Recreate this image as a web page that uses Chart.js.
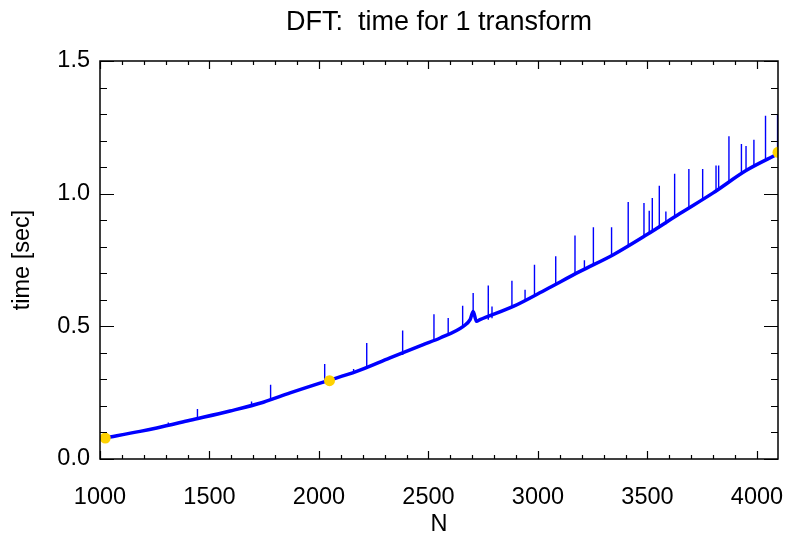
<!DOCTYPE html>
<html lang="en">
<head>
  <meta charset="UTF-8">
  <title>DFT: time for 1 transform</title>
  <script src="https://cdn.jsdelivr.net/npm/chart.js"></script>
  <style>
    html, body { margin: 0; padding: 0; background: #fff; }
  </style>
</head>
<body>
  <canvas id="dftChart" width="785" height="544"></canvas>

  <script>
    // smooth part of the curve (N, seconds)
    const baseN = [1024, 1183, 1259, 1411, 1594, 1746, 1868, 2020, 2172, 2324, 2476, 2553, 2659, 2690, 2704, 2719, 2735, 2887, 3039, 3192, 3344, 3496, 3648, 3800, 3952, 4096];
    const baseT = [0.080, 0.104, 0.117, 0.146, 0.181, 0.214, 0.249, 0.290, 0.330, 0.381, 0.431, 0.456, 0.500, 0.525, 0.556, 0.519, 0.525, 0.575, 0.640, 0.707, 0.770, 0.845, 0.925, 1.003, 1.088, 1.150];

    // outliers: position, peak and the level they start from
    const spikeN    = [1312, 1445, 1692, 1779, 2026, 2158, 2218, 2382, 2525, 2590, 2656, 2704, 2773, 2790, 2881, 2941, 2984, 3081, 3169, 3212, 3253, 3336, 3412, 3484, 3508, 3522, 3554, 3584, 3624, 3689, 3752, 3813, 3825, 3872, 3929, 3950, 3986, 4039, 4094];
    const spikeTop  = [0.138, 0.188, 0.217, 0.280, 0.358, 0.339, 0.437, 0.484, 0.546, 0.531, 0.578, 0.626, 0.654, 0.575, 0.672, 0.638, 0.732, 0.764, 0.842, 0.749, 0.873, 0.873, 0.969, 0.965, 0.936, 0.984, 1.030, 0.933, 1.075, 1.093, 1.093, 1.106, 1.106, 1.216, 1.187, 1.180, 1.203, 1.294, 1.298];
    const spikeBase = [0.122, 0.150, 0.200, 0.222, 0.290, 0.325, 0.345, 0.392, 0.445, 0.465, 0.495, 0.556, 0.525, 0.530, 0.572, 0.595, 0.620, 0.660, 0.700, 0.715, 0.735, 0.768, 0.805, 0.840, 0.848, 0.855, 0.870, 0.885, 0.910, 0.945, 0.975, 1.010, 1.015, 1.040, 1.075, 1.088, 1.105, 1.125, 1.150];

    // powers of two
    const dotN = [1024, 2048, 4096];
    const dotT = [0.079, 0.295, 1.156];

    const xTickVals = [1000, 1500, 2000, 2500, 3000, 3500, 4000];
    const yTickVals = [0.0, 0.5, 1.0, 1.5];

    const FONT = '"Liberation Sans", Arial, Helvetica, sans-serif';

    const basePoints = baseN.map((n, i) => ({ x: n, y: baseT[i] }));
    const spikePoints = [];
    spikeN.forEach((n, i) => {
      spikePoints.push({ x: n, y: spikeBase[i] });
      spikePoints.push({ x: n, y: spikeTop[i] });
      spikePoints.push({ x: n, y: null });
    });
    const dotPoints = dotN.map((n, i) => ({ x: n, y: dotT[i] }));

    // IDL-style box with inward ticks on all four sides + main title
    const frame = {
      id: 'frame',
      afterDraw(chart) {
        const { ctx, chartArea: a, scales: { x, y } } = chart;
        ctx.save();
        ctx.strokeStyle = '#000';
        ctx.lineWidth = 1.5;
        ctx.strokeRect(a.left, a.top, a.right - a.left, a.bottom - a.top);

        ctx.lineWidth = 1.2;
        ctx.beginPath();
        for (let v = 1000; v <= 4000; v += 100) {
          const px = Math.round(x.getPixelForValue(v)) + 0.5;
          const len = v % 500 === 0 ? 8 : 4;
          ctx.moveTo(px, a.bottom); ctx.lineTo(px, a.bottom - len);
          ctx.moveTo(px, a.top); ctx.lineTo(px, a.top + len);
        }
        for (let k = 0; k <= 15; k++) {
          const py = Math.round(y.getPixelForValue(k / 10)) + 0.5;
          const len = k % 5 === 0 ? 14 : 7;
          ctx.moveTo(a.left, py); ctx.lineTo(a.left + len, py);
          ctx.moveTo(a.right, py); ctx.lineTo(a.right - len, py);
        }
        ctx.stroke();

        ctx.fillStyle = '#000';
        ctx.font = '27px ' + FONT;
        ctx.textAlign = 'center';
        ctx.textBaseline = 'middle';
        ctx.fillText('DFT:  time for 1 transform', (a.left + a.right) / 2, 23);
        ctx.restore();
      }
    };

    const ctx = document.getElementById('dftChart').getContext('2d');
    new Chart(ctx, {
      type: 'line',
      data: {
        datasets: [
          {
            label: 'powers of 2',
            type: 'scatter',
            data: dotPoints,
            pointRadius: 5.5,
            pointBackgroundColor: '#ffd200',
            pointBorderWidth: 0,
            showLine: false,
            clip: 0,
            order: 0
          },
          {
            label: 'spikes',
            data: spikePoints,
            borderColor: '#0000ff',
            borderWidth: 1.4,
            pointRadius: 0,
            spanGaps: false,
            clip: 0,
            order: 1
          },
          {
            label: 'time',
            data: basePoints,
            borderColor: '#0000ff',
            borderWidth: 3.5,
            pointRadius: 0,
            cubicInterpolationMode: 'monotone',
            clip: 0,
            order: 2
          }
        ]
      },
      options: {
        responsive: false,
        animation: false,
        devicePixelRatio: 1,
        layout: { padding: { top: 61, right: 7, left: 0, bottom: 0 } },
        plugins: {
          legend: { display: false },
          tooltip: { enabled: false }
        },
        scales: {
          x: {
            type: 'linear',
            min: 1000,
            max: 4096,
            afterBuildTicks: s => { s.ticks = xTickVals.map(v => ({ value: v })); },
            afterFit: s => { s.height = 85; s.paddingLeft = 0; s.paddingRight = 0; },
            grid: { display: false, drawTicks: false },
            border: { display: false },
            ticks: {
              padding: 24,
              color: '#000',
              font: { family: FONT, size: 23.5 },
              maxRotation: 0,
              callback: v => String(v)
            },
            title: {
              display: true,
              text: 'N',
              color: '#000',
              font: { family: FONT, size: 23.5 },
              padding: { top: 0, bottom: 5 }
            }
          },
          y: {
            type: 'linear',
            min: 0,
            max: 1.5,
            afterBuildTicks: s => { s.ticks = yTickVals.map(v => ({ value: v })); },
            afterFit: s => { s.width = 100; s.paddingTop = 0; s.paddingBottom = 0; },
            grid: { display: false, drawTicks: false },
            border: { display: false },
            ticks: {
              padding: 10,
              color: '#000',
              font: { family: FONT, size: 23.5 },
              callback: v => Number(v).toFixed(1)
            },
            title: {
              display: true,
              text: 'time [sec]',
              color: '#000',
              font: { family: FONT, size: 23.5 },
              padding: { top: 8, bottom: 0 }
            }
          }
        }
      },
      plugins: [frame]
    });
  </script>
</body>
</html>
